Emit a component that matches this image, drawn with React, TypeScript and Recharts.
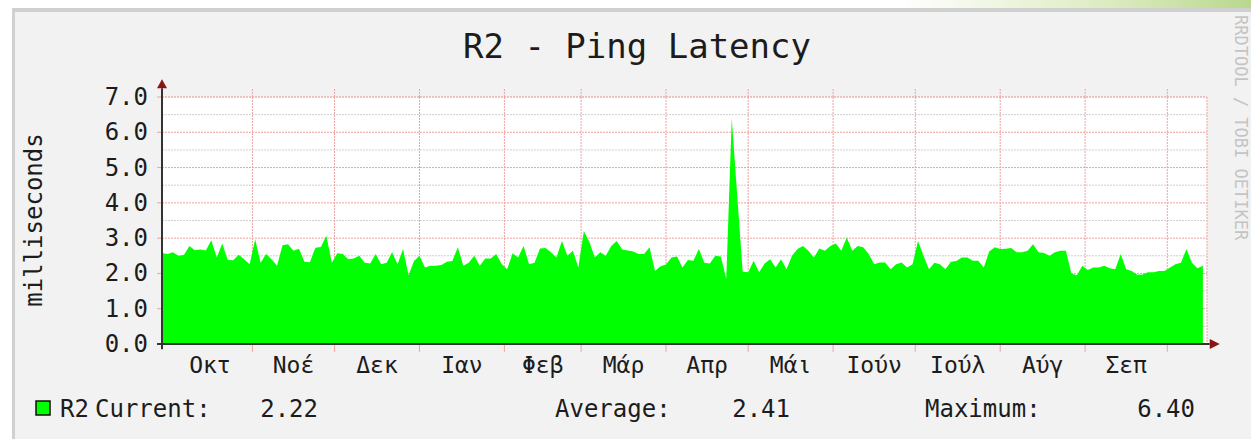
import React from 'react';
import { AreaChart, Area, XAxis, YAxis, CartesianGrid, ReferenceLine, ReferenceDot } from 'recharts';

const FONT = '"DejaVu Sans Mono", monospace';

// time axis in days relative to 1 Nov; one sample every 2 days
const startDay = -33;
const stepDays = 2;
const latency = [
  2.58, 2.55, 2.6, 2.5, 2.52, 2.78, 2.66, 2.68, 2.65, 2.94,
  2.45, 2.85, 2.38, 2.37, 2.53, 2.4, 2.26, 2.97, 2.3, 2.55,
  2.4, 2.22, 2.8, 2.83, 2.64, 2.7, 2.33, 2.32, 2.73, 2.75,
  3.07, 2.3, 2.57, 2.55, 2.4, 2.42, 2.5, 2.3, 2.28, 2.55,
  2.26, 2.3, 2.6, 2.26, 2.69, 1.95, 2.35, 2.5, 2.17, 2.22,
  2.22, 2.24, 2.33, 2.35, 2.74, 2.22, 2.3, 2.5, 2.22, 2.42,
  2.42, 2.55, 2.27, 2.12, 2.57, 2.45, 2.78, 2.26, 2.3, 2.71,
  2.72, 2.6, 2.45, 2.92, 2.5, 2.64, 2.17, 3.2, 2.9, 2.45,
  2.6, 2.5, 2.78, 2.92, 2.68, 2.65, 2.62, 2.55, 2.55, 2.74,
  2.07, 2.2, 2.25, 2.45, 2.48, 2.17, 2.38, 2.36, 2.69, 2.3,
  2.28, 2.5, 2.48, 1.85, 6.4, 4.2, 2.05, 2.03, 2.36, 2.03,
  2.28, 2.4, 2.17, 2.4, 2.12, 2.5, 2.69, 2.78, 2.64, 2.45,
  2.71, 2.64, 2.78, 2.85, 2.64, 3.02, 2.64, 2.78, 2.74, 2.55,
  2.26, 2.31, 2.31, 2.12, 2.26, 2.31, 2.17, 2.26, 2.92, 2.5,
  2.12, 2.3, 2.26, 2.12, 2.33, 2.35, 2.45, 2.45, 2.36, 2.36,
  2.17, 2.62, 2.74, 2.69, 2.7, 2.72, 2.6, 2.6, 2.64, 2.83,
  2.6, 2.58, 2.5, 2.6, 2.64, 2.64, 2.0, 1.95, 2.22, 2.1,
  2.17, 2.17, 2.22, 2.15, 2.12, 2.55, 2.12, 2.07, 1.96, 1.97,
  2.03, 2.03, 2.07, 2.07, 2.17, 2.26, 2.3, 2.69, 2.3, 2.15,
  2.22,
];

const xDomain: [number, number] = [-33, 348.5];
const yDomain: [number, number] = [0, 7];
const monthBoundaries = [0, 30, 61, 92, 120, 151, 181, 212, 242, 273, 304, 334];
const monthLabelDays = [-15.5, 15, 45.5, 76.5, 106, 135.5, 166, 196.5, 227, 257.5, 288.5, 319];
const monthLabels = ['Οκτ', 'Νοέ', 'Δεκ', 'Ιαν', 'Φεβ', 'Μάρ', 'Απρ', 'Μάι', 'Ιούν', 'Ιούλ', 'Αύγ', 'Σεπ'];
const yMajorTicks = [0, 1, 2, 3, 4, 5, 6, 7];
const yMinorTicks = [0.5, 1.5, 2.5, 3.5, 4.5, 5.5, 6.5];

const title = 'R2 - Ping Latency';
const yLabel = 'milliseconds';
const seriesName = 'R2';
const statLabels = ['Current:', 'Average:', 'Maximum:'];
const statValues = ['2.22', '2.41', '6.40'];
const watermark = 'RRDTOOL / TOBI OETIKER';

const data = latency.map((v, i) => ({ day: startDay + i * stepDays, v }));

const MAJOR = '#f0a0a0';
const MINOR = '#d0d0d0';
const AXIS = '#333333';
const ARROW = '#8a1414';
const TEXT = '#1c1c1c';

const UpArrow = (p: any) => (
  <path d={`M${p.cx - 5},${p.cy} L${p.cx + 5},${p.cy} L${p.cx},${p.cy - 9} Z`} fill={ARROW} />
);
const RightArrow = (p: any) => (
  <path d={`M${p.cx},${p.cy - 5} L${p.cx},${p.cy + 5} L${p.cx + 10},${p.cy} Z`} fill={ARROW} />
);

const YTick = (p: any) => (
  <text x={p.x} y={p.y} dx={-14} textAnchor="end" dominantBaseline="central" fontFamily={FONT} fontSize={24} fill={TEXT}>
    {Number(p.payload.value).toFixed(1)}
  </text>
);

const statLabelX = [95, 555, 925];
const statValueEndX = [318, 790, 1195];

export default function App() {
  return (
    <div style={{ position: 'fixed', left: 0, top: 0, width: 1251, height: 439, overflow: 'hidden', background: '#ffffff' }}>
      <svg width={1251} height={439} style={{ position: 'absolute', left: 0, top: 0 }}>
        <defs>
          <linearGradient id="leaf" x1="0" x2="1" y1="0" y2="0">
            <stop offset="0" stopColor="#ffffff" />
            <stop offset="0.6" stopColor="#dcebc0" />
            <stop offset="1" stopColor="#b9d88e" />
          </linearGradient>
        </defs>
        <rect x={900} y={0} width={351} height={9} fill="url(#leaf)" />
        <rect x={12} y={8} width={1260} height={440} fill="#f2f2f2" />
        <rect x={12} y={8} width={1260} height={4} fill="#d0d0d0" />
        <rect x={12} y={8} width={3} height={440} fill="#d0d0d0" />
      </svg>
      <div style={{ position: 'absolute', left: 0, top: 0 }}>
        <AreaChart width={1251} height={439} data={data} margin={{ top: 97, right: 44, bottom: 65, left: 102 }}>
          <CartesianGrid horizontal={false} vertical={false} fill="#ffffff" />
          <CartesianGrid vertical={false} yAxisId="minor" stroke={MINOR} strokeDasharray="2 1" />
          <CartesianGrid vertical={false} stroke={MAJOR} strokeDasharray="2 1" />
          <CartesianGrid horizontal={false} xAxisId="months" stroke={MAJOR} strokeDasharray="2 1" />
          <Area type="linear" dataKey="v" stroke="none" fill="#00ff00" fillOpacity={1} isAnimationActive={false} baseValue={0} />
          <XAxis
            type="number"
            dataKey="day"
            domain={xDomain}
            allowDataOverflow
            ticks={monthLabelDays}
            interval={0}
            tickFormatter={(v: number) => monthLabels[monthLabelDays.indexOf(v)] ?? ''}
            tickLine={false}
            axisLine={false}
            tickSize={0}
            tickMargin={13}
            height={30}
            tick={{ fontFamily: FONT, fontSize: 23, fill: TEXT }}
          />
          <XAxis xAxisId="months" type="number" dataKey="day" domain={xDomain} allowDataOverflow ticks={monthBoundaries} interval={0} hide />
          <YAxis
            type="number"
            domain={yDomain}
            ticks={yMajorTicks}
            interval={0}
            tickLine={false}
            axisLine={false}
            tickSize={0}
            tickMargin={0}
            width={60}
            tick={YTick}
          />
          <YAxis yAxisId="minor" type="number" domain={yDomain} allowDataOverflow ticks={yMinorTicks} interval={0} hide />
          {yMajorTicks.map((t) => (
            <ReferenceLine key={'tk' + t} segment={[{ x: xDomain[0] - 1.8, y: t }, { x: xDomain[0], y: t }]} stroke={MAJOR} ifOverflow="visible" />
          ))}
          {monthBoundaries.map((b) => (
            <ReferenceLine key={'mt' + b} segment={[{ x: b, y: 7 }, { x: b, y: 7.25 }]} stroke={MAJOR} strokeDasharray="2 1" ifOverflow="visible" />
          ))}
          {monthBoundaries.map((b) => (
            <ReferenceLine key={'mbt' + b} segment={[{ x: b, y: -0.22 }, { x: b, y: 0 }]} stroke={MAJOR} ifOverflow="visible" />
          ))}
          <ReferenceLine segment={[{ x: xDomain[0] - 1.8, y: 0 }, { x: 349.5, y: 0 }]} stroke={AXIS} strokeWidth={2} ifOverflow="visible" />
          <ReferenceLine segment={[{ x: xDomain[0], y: -0.15 }, { x: xDomain[0], y: 7.25 }]} stroke={AXIS} strokeWidth={2} ifOverflow="visible" />
          <ReferenceDot x={xDomain[0]} y={7.25} r={0} ifOverflow="visible" shape={UpArrow} />
          <ReferenceDot x={349.5} y={0} r={0} ifOverflow="visible" shape={RightArrow} />
        </AreaChart>
      </div>
      <svg width={1251} height={439} style={{ position: 'absolute', left: 0, top: 0, pointerEvents: 'none' }}>
        <text x={637} y={58} textAnchor="middle" fontFamily={FONT} fontSize={34} fill={TEXT}>{title}</text>
        <text transform="translate(42,220) rotate(-90)" textAnchor="middle" fontFamily={FONT} fontSize={24} fill={TEXT}>{yLabel}</text>
        <text transform="translate(1235,15) rotate(90)" fontFamily={FONT} fontSize={17} fill="#c4c4c4">{watermark}</text>
        <rect x={36} y={401} width={14} height={14} fill="#00ff00" stroke="#111" strokeWidth={1.5} />
        <text x={60} y={417} fontFamily={FONT} fontSize={24} fill={TEXT}>{seriesName}</text>
        {statLabels.map((s, i) => (
          <text key={s} x={statLabelX[i]} y={417} fontFamily={FONT} fontSize={24} fill={TEXT}>{s}</text>
        ))}
        {statValues.map((s, i) => (
          <text key={'v' + i} x={statValueEndX[i]} y={417} textAnchor="end" fontFamily={FONT} fontSize={24} fill={TEXT}>{s}</text>
        ))}
      </svg>
    </div>
  );
}
